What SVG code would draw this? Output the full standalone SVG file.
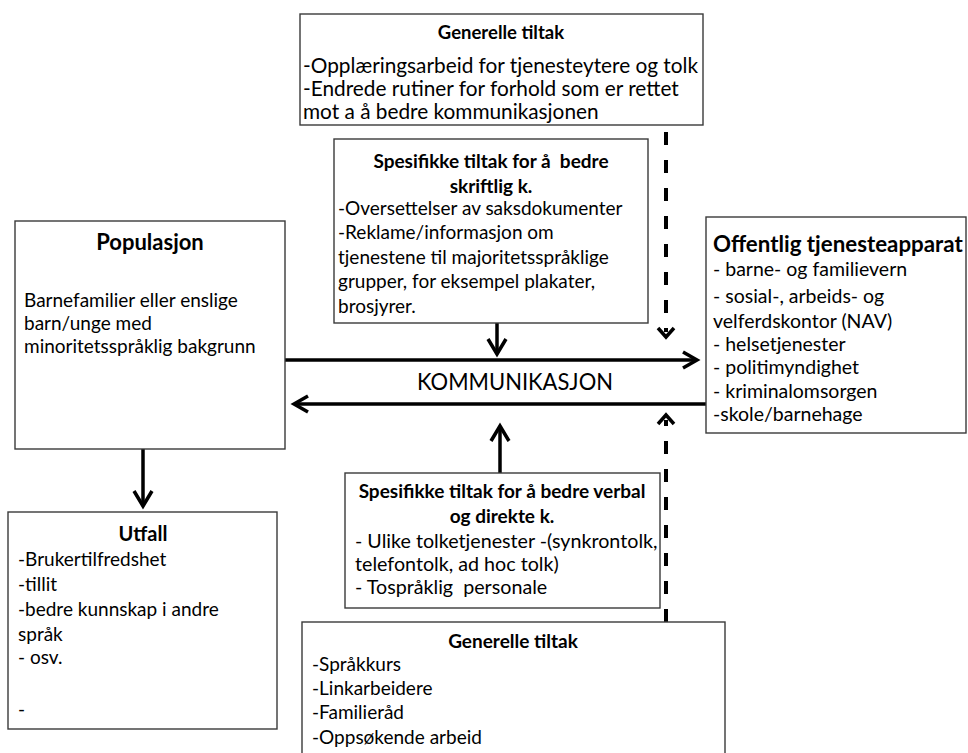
<svg xmlns="http://www.w3.org/2000/svg" width="968" height="753" viewBox="0 0 968 753">
<style>
.box{fill:#fff;stroke:#3a3a3a;stroke-width:1.4}
text{font-family:Lato,"Open Sans","Liberation Sans",sans-serif;font-size:19px;fill:#000;white-space:pre}
.t{font-weight:bold;text-anchor:middle}
.ln{stroke:#000;stroke-width:3.5;fill:none}
.dash{stroke:#000;stroke-width:4;fill:none;stroke-dasharray:13 15}
.head{stroke:#000;stroke-width:3.5;fill:none;stroke-linejoin:miter;stroke-linecap:butt}
.f185{font-size:18.5px}
.f195{font-size:19.5px}
.f197{font-size:19.7px}
.f20{font-size:20px}
.f208{font-size:20.8px}
.f22{font-size:22px}
.f223{font-size:22.3px}
.f24{font-size:24px}
</style>
<g id="connectors">
<line class="ln" x1="285" y1="360" x2="696" y2="360"/>
<path class="head" d="M683,352 L697,360 L683,368"/>
<line class="ln" x1="706" y1="404" x2="295" y2="404"/>
<path class="head" d="M308,396 L294,404 L308,412"/>
<line class="ln" x1="497" y1="323" x2="497" y2="353"/>
<path class="head" d="M488,339 L497,354 L506,339"/>
<line class="ln" x1="500" y1="473" x2="500" y2="427"/>
<path class="head" d="M491,441 L500,426 L509,441"/>
<line class="ln" x1="143" y1="449" x2="143" y2="505"/>
<path class="head" d="M134,491 L143,506 L152,491"/>
<line class="dash" x1="666" y1="132" x2="666" y2="332"/>
<path class="head" d="M658,328 L666,337 L674,328"/>
<line class="dash" x1="666" y1="622" x2="666" y2="420"/>
<path class="head" d="M658,424 L666,415 L674,424"/>
</g>
<g id="generelle-top">
<rect class="box" x="300" y="14" width="403" height="111"/>
<text class="t f185" x="501" y="39">Generelle tiltak</text>
<text class="f208" x="303" y="73">-Opplæringsarbeid for tjenesteytere og tolk</text>
<text class="f208" x="303" y="96">-Endrede rutiner for forhold som er rettet</text>
<text class="f208" x="303" y="119">mot a å bedre kommunikasjonen</text>
</g>
<g id="spesifikke-skriftlig">
<rect class="box" x="334" y="139" width="314" height="184"/>
<text class="t" x="491" y="168">Spesifikke tiltak for å  bedre</text>
<text class="t" x="491" y="193">skriftlig k.</text>
<text x="338" y="215">-Oversettelser av saksdokumenter</text>
<text x="338" y="239">-Reklame/informasjon om</text>
<text x="338" y="264">tjenestene til majoritetsspråklige</text>
<text x="338" y="288">grupper, for eksempel plakater,</text>
<text x="338" y="313">brosjyrer.</text>
</g>
<g id="populasjon">
<rect class="box" x="15" y="221" width="270" height="228"/>
<text class="t f22" x="150" y="250">Populasjon</text>
<text x="24" y="307">Barnefamilier eller enslige</text>
<text x="24" y="330">barn/unge med</text>
<text x="24" y="353">minoritetsspråklig bakgrunn</text>
</g>
<g id="offentlig">
<rect class="box" x="706" y="217" width="260" height="216"/>
<text class="f223" x="713" y="252" font-weight="bold">Offentlig tjenesteapparat</text>
<text class="f195" x="713" y="276">- barne- og familievern</text>
<text class="f195" x="713" y="303">- sosial-, arbeids- og</text>
<text class="f195" x="713" y="328">velferdskontor (NAV)</text>
<text class="f195" x="713" y="351">- helsetjenester</text>
<text class="f195" x="713" y="374">- politimyndighet</text>
<text class="f195" x="713" y="398">- kriminalomsorgen</text>
<text class="f195" x="713" y="421">-skole/barnehage</text>
</g>
<text class="f24" x="417" y="390" textLength="196" lengthAdjust="spacingAndGlyphs">KOMMUNIKASJON</text>
<g id="utfall">
<rect class="box" x="8" y="512" width="269" height="217"/>
<text class="t f20" x="143" y="541">Utfall</text>
<text x="18" y="566">-Brukertilfredshet</text>
<text x="18" y="591">-tillit</text>
<text x="18" y="616">-bedre kunnskap i andre</text>
<text x="18" y="641">språk</text>
<text x="18" y="664">- osv.</text>
<text x="18" y="716">-</text>
</g>
<g id="spesifikke-verbal">
<rect class="box" x="345" y="473" width="315" height="135"/>
<text class="t" x="502" y="498">Spesifikke tiltak for å bedre verbal</text>
<text class="t" x="502" y="523">og direkte k.</text>
<text class="f197" x="355" y="548">- Ulike tolketjenester -(synkrontolk,</text>
<text class="f197" x="355" y="571">telefontolk, ad hoc tolk)</text>
<text class="f197" x="355" y="594">- Tospråklig  personale</text>
</g>
<g id="generelle-bottom">
<rect class="box" x="302" y="622" width="423" height="140"/>
<text class="t" x="513" y="648">Generelle tiltak</text>
<text x="312" y="671">-Språkkurs</text>
<text x="312" y="695">-Linkarbeidere</text>
<text x="312" y="719">-Familieråd</text>
<text x="312" y="744">-Oppsøkende arbeid</text>
</g>
</svg>
